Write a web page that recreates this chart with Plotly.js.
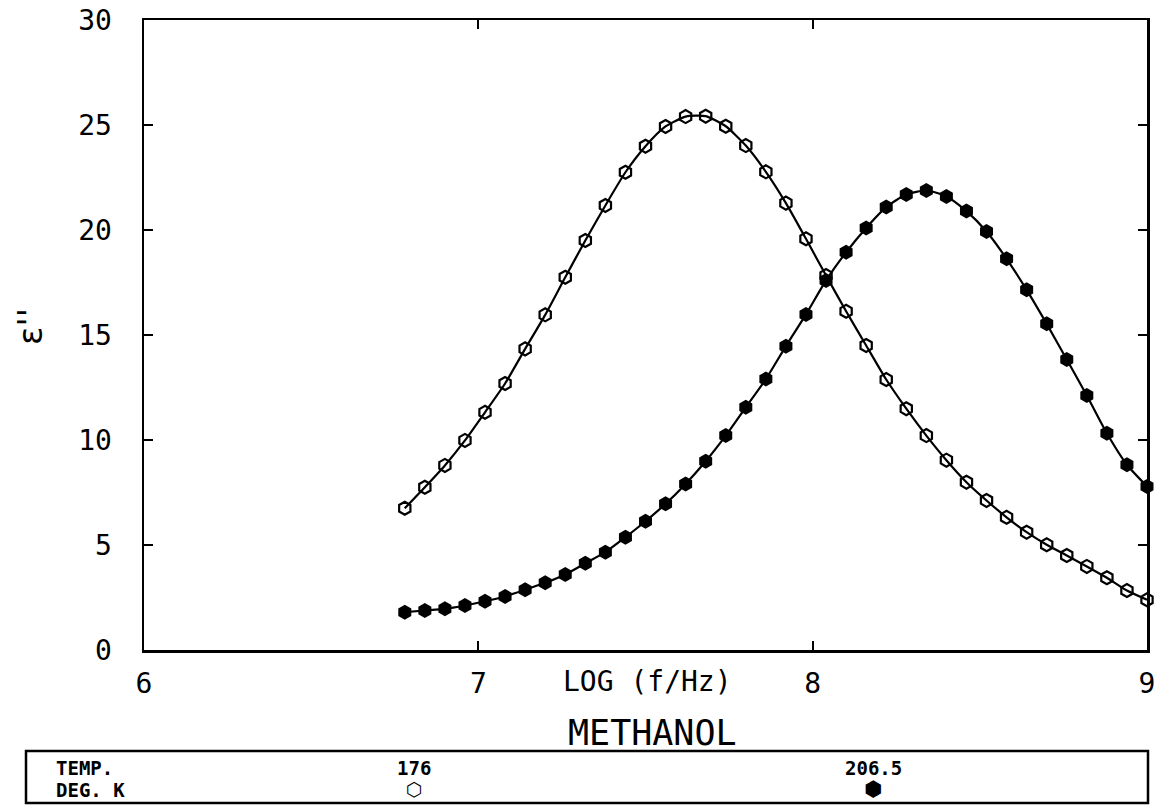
<!DOCTYPE html>
<html>
<head>
<meta charset="utf-8">
<script src="https://cdn.plot.ly/plotly-3.0.1.min.js"></script>
<style>
  html, body { margin: 0; padding: 0; background: #fff; }
  #chart { width: 1161px; height: 805px; }
</style>
</head>
<body>
<div id="chart"></div>
<script>
// log10(f/Hz)
const logFreq = [6.78, 6.84, 6.90, 6.96, 7.02, 7.08, 7.14, 7.20, 7.26, 7.32,
                 7.38, 7.44, 7.50, 7.56, 7.62, 7.68, 7.74, 7.80, 7.86, 7.92,
                 7.98, 8.04, 8.10, 8.16, 8.22, 8.28, 8.34, 8.40, 8.46, 8.52,
                 8.58, 8.64, 8.70, 8.76, 8.82, 8.88, 8.94, 9.00];
// epsilon'' at 176 K (open symbols)
const eps176 = [6.75, 7.75, 8.79, 9.98, 11.32, 12.69, 14.34, 15.96, 17.75, 19.50,
                21.17, 22.75, 23.99, 24.93, 25.40, 25.42, 24.94, 24.02, 22.77, 21.28,
                19.58, 17.83, 16.13, 14.50, 12.88, 11.49, 10.21, 9.04, 7.99, 7.12,
                6.32, 5.61, 5.01, 4.50, 3.98, 3.44, 2.83, 2.39];
// epsilon'' at 206.5 K (filled symbols)
const eps2065 = [1.80, 1.88, 1.96, 2.12, 2.32, 2.55, 2.87, 3.20, 3.60, 4.13,
                 4.66, 5.37, 6.13, 6.96, 7.91, 8.99, 10.21, 11.56, 12.90, 14.47,
                 15.98, 17.60, 18.94, 20.10, 21.09, 21.69, 21.88, 21.60, 20.90, 19.93,
                 18.63, 17.15, 15.53, 13.83, 12.12, 10.32, 8.82, 7.79];
const xTicks = [6, 7, 8, 9];
const yTicks = [0, 5, 10, 15, 20, 25, 30];
const tempLabels = ['176', '206.5'];

const FONT = 'DejaVu Sans Mono, monospace';

const traces = [
  {
    x: logFreq, y: eps176, mode: 'lines+markers', type: 'scatter',
    line: { color: '#000', width: 2.2, shape: 'spline', smoothing: 0.6 },
    marker: { symbol: 'hexagon-open', size: 13, color: '#000', line: { width: 2.2, color: '#000' } },
    showlegend: false, hoverinfo: 'skip', cliponaxis: false
  },
  {
    x: logFreq, y: eps2065, mode: 'lines+markers', type: 'scatter',
    line: { color: '#000', width: 2.2, shape: 'spline', smoothing: 0.6 },
    marker: { symbol: 'hexagon', size: 15, color: '#000', line: { width: 0 } },
    showlegend: false, hoverinfo: 'skip', cliponaxis: false
  }
];

const pyToPaper = py => (650 - py) / 630;
const pxToPaper = px => (px - 144) / 1003;

const layout = {
  width: 1161, height: 805,
  margin: { l: 144, r: 14, t: 20, b: 155 },
  paper_bgcolor: '#fff', plot_bgcolor: '#fff',
  showlegend: false,
  xaxis: {
    range: [6, 9], tickvals: xTicks, ticktext: xTicks.map(String),
    ticks: 'inside', ticklen: 9, tickwidth: 2, tickcolor: '#000',
    showline: true, linewidth: 2.5, linecolor: '#000', mirror: 'ticks',
    showgrid: false, zeroline: false,
    ticklabelstandoff: 7,
    tickfont: { family: FONT, size: 28, color: '#000' }
  },
  yaxis: {
    range: [0, 30], tickvals: yTicks, ticktext: yTicks.map(String),
    ticks: 'inside', ticklen: 9, tickwidth: 2, tickcolor: '#000',
    showline: true, linewidth: 2.5, linecolor: '#000', mirror: 'ticks',
    showgrid: false, zeroline: false,
    ticklabelstandoff: 24,
    tickfont: { family: FONT, size: 28, color: '#000' }
  },
  annotations: [
    { text: 'LOG (f/Hz)', xref: 'paper', yref: 'paper', x: pxToPaper(647), y: pyToPaper(681),
      showarrow: false, xanchor: 'center', yanchor: 'middle',
      font: { family: FONT, size: 28, color: '#000' } },
    { text: 'METHANOL', xref: 'paper', yref: 'paper', x: pxToPaper(652), y: pyToPaper(733),
      showarrow: false, xanchor: 'center', yanchor: 'middle',
      font: { family: FONT, size: 35, color: '#000' } },
    { text: "ε''", xref: 'paper', yref: 'paper', x: pxToPaper(30), y: pyToPaper(327),
      showarrow: false, xanchor: 'center', yanchor: 'middle', textangle: -90,
      font: { family: 'DejaVu Sans, sans-serif', size: 34, color: '#000' } },
    { text: '<b>TEMP.</b>', xref: 'paper', yref: 'paper', x: pxToPaper(54), y: pyToPaper(768),
      showarrow: false, xanchor: 'left', yanchor: 'middle',
      font: { family: FONT, size: 19, color: '#000' } },
    { text: '<b>DEG. K</b>', xref: 'paper', yref: 'paper', x: pxToPaper(54), y: pyToPaper(790),
      showarrow: false, xanchor: 'left', yanchor: 'middle',
      font: { family: FONT, size: 19, color: '#000' } },
    { text: '<b>' + tempLabels[0] + '</b>', xref: 'paper', yref: 'paper', x: pxToPaper(414), y: pyToPaper(768),
      showarrow: false, xanchor: 'center', yanchor: 'middle',
      font: { family: FONT, size: 19, color: '#000' } },
    { text: '<b>⬡</b>', xref: 'paper', yref: 'paper', x: pxToPaper(414), y: pyToPaper(789),
      showarrow: false, xanchor: 'center', yanchor: 'middle',
      font: { family: 'DejaVu Sans, sans-serif', size: 19, color: '#000' } },
    { text: '<b>' + tempLabels[1] + '</b>', xref: 'paper', yref: 'paper', x: pxToPaper(873), y: pyToPaper(768),
      showarrow: false, xanchor: 'center', yanchor: 'middle',
      font: { family: FONT, size: 19, color: '#000' } },
    { text: '⬢', xref: 'paper', yref: 'paper', x: pxToPaper(873), y: pyToPaper(789),
      showarrow: false, xanchor: 'center', yanchor: 'middle',
      font: { family: 'DejaVu Sans, sans-serif', size: 21, color: '#000' } }
  ],
  shapes: [
    { type: 'rect', xref: 'paper', yref: 'paper',
      x0: pxToPaper(26), x1: pxToPaper(1148), y0: pyToPaper(751), y1: pyToPaper(803),
      line: { color: '#000', width: 2.5 }, fillcolor: 'rgba(0,0,0,0)' }
  ]
};

Plotly.newPlot('chart', traces, layout, { staticPlot: true, displayModeBar: false });
</script>
</body>
</html>
